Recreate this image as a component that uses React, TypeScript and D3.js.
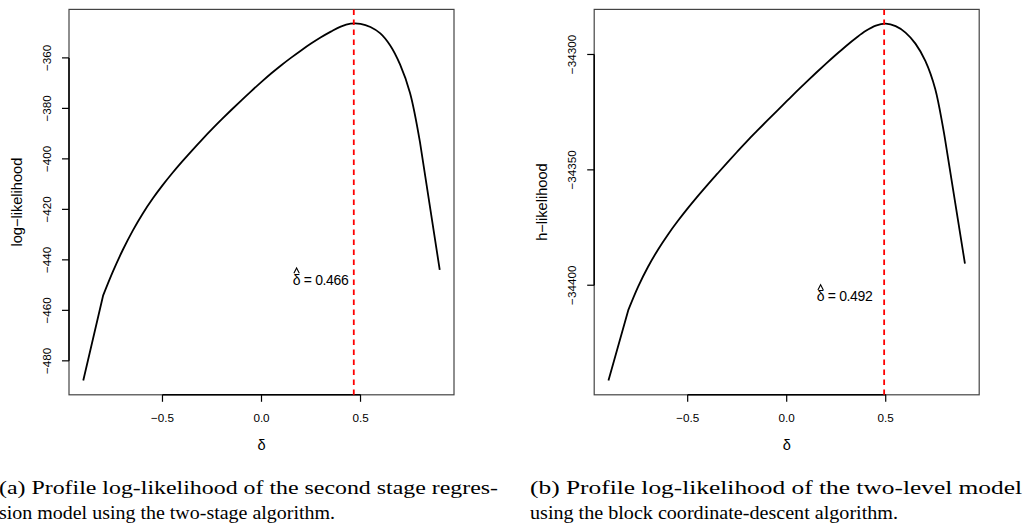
import React from 'react';
import * as d3 from 'd3';

// ---- data ----
const deltaGrid = [
  -0.9, -0.8, -0.75, -0.7, -0.65, -0.6, -0.55, -0.5, -0.45, -0.4, -0.35, -0.3, -0.25, -0.2, -0.15, -0.1, -0.05,
  0, 0.05, 0.1, 0.15, 0.2, 0.25, 0.3, 0.35, 0.4, 0.45, 0.5, 0.55, 0.6, 0.65, 0.7, 0.75, 0.8, 0.9,
];
const logLik = [
  -487.8, -454.2, -444.6, -436.0, -428.4, -421.7, -415.8, -410.5, -405.6, -401.0, -396.6, -392.35, -388.25, -384.3, -380.45, -376.7, -373.05,
  -369.5, -366.1, -362.9, -359.9, -357.05, -354.35, -351.85, -349.6, -347.6, -346.45, -346.5, -347.75, -350.3, -355.1, -362.7, -373.9, -393.3, -444.0,
];
const hLik = [
  -34441.3, -34410.8, -34400.6, -34392.0, -34384.6, -34378.1, -34372.2, -34366.7, -34361.5, -34356.5, -34351.65, -34346.85, -34342.15, -34337.55, -34333.15, -34328.8, -34324.5,
  -34320.25, -34316.0, -34311.85, -34307.8, -34303.85, -34300.0, -34296.3, -34292.85, -34289.75, -34287.5, -34286.65, -34287.7, -34290.5, -34295.3, -34302.8, -34315.0, -34337.0, -34390.6,
];
const deltaHatA = 0.466;
const deltaHatB = 0.492;
const xTicks = [-0.5, 0, 0.5];
const yTicksA = [-480, -460, -440, -420, -400, -380, -360];
const yTicksB = [-34400, -34350, -34300];
const annotA = { x: 0.158, y: -449.8 };
const annotB = { x: 0.152, y: -34407 };
const captionA = [
  '(a) Profile log-likelihood of the second stage regres-',
  'sion model using the two-stage algorithm.',
];
const captionB = [
  '(b) Profile log-likelihood of the two-level model',
  'using the block coordinate-descent algorithm.',
];

const SANS = '"Liberation Sans", Arial, Helvetica, sans-serif';
const SERIF = '"Liberation Serif", "Times New Roman", serif';
const MINUS = '\u2212';

const fmtX = (v: number) => (v < 0 ? MINUS : '') + Math.abs(v).toFixed(1);
const fmtY = (v: number) => (v < 0 ? MINUS : '') + String(Math.abs(v));

function padExtent(arr: number[]) {
  const [a, b] = d3.extent(arr) as [number, number];
  const p = (b - a) * 0.04;
  return [a - p, b + p];
}

type PanelProps = {
  left: number; right: number; top: number; bottom: number;
  values: number[]; yTicks: number[]; deltaHat: number;
  annot: { x: number; y: number }; yLabel: string;
};

function Panel({ left, right, top, bottom, values, yTicks, deltaHat, annot, yLabel }: PanelProps) {
  const x = d3.scaleLinear().domain(padExtent(deltaGrid)).range([left, right]);
  const y = d3.scaleLinear().domain(padExtent(values)).range([bottom, top]);
  const pts: [number, number][] = deltaGrid.map((d, i) => [d, values[i]]);
  const iA = deltaGrid.indexOf(-0.8);
  const iB = deltaGrid.indexOf(0.8);
  const lin = d3.line<[number, number]>().x((d) => x(d[0])).y((d) => y(d[1]));
  const smooth = d3
    .line<[number, number]>()
    .x((d) => x(d[0]))
    .y((d) => y(d[1]))
    .curve(d3.curveCatmullRom.alpha(0.5));
  const dPath =
    (lin(pts.slice(0, iA + 1)) || '') +
    (smooth(pts.slice(iA, iB + 1)) || '').replace(/^M/, 'L') +
    (lin(pts.slice(iB)) || '').replace(/^M/, 'L');

  const tickLen = 7;
  const cx = (left + right) / 2;
  const cy = (top + bottom) / 2;
  const ax = x(annot.x);
  const ay = y(annot.y);
  const dashX = x(deltaHat);
  const hx = ax + 3.8;

  return (
    <g>
      <rect x={left} y={top} width={right - left} height={bottom - top} fill="none" stroke="#444" strokeWidth={1.2} />
      {/* x axis */}
      <line x1={x(xTicks[0])} x2={x(xTicks[xTicks.length - 1])} y1={bottom} y2={bottom} stroke="#000" strokeWidth={1.5} />
      {xTicks.map((t) => (
        <g key={'x' + t}>
          <line x1={x(t)} x2={x(t)} y1={bottom} y2={bottom + tickLen} stroke="#000" strokeWidth={1.2} />
          <text x={x(t)} y={bottom + 27} textAnchor="middle" fontFamily={SANS} fontSize={11.7} fill="#000">
            {fmtX(t)}
          </text>
        </g>
      ))}
      {/* y axis */}
      <line x1={left} x2={left} y1={y(yTicks[0])} y2={y(yTicks[yTicks.length - 1])} stroke="#000" strokeWidth={1.5} />
      {yTicks.map((t) => (
        <g key={'y' + t}>
          <line x1={left - tickLen} x2={left} y1={y(t)} y2={y(t)} stroke="#000" strokeWidth={1.2} />
          <text
            transform={`translate(${left - 17.8},${y(t)}) rotate(-90)`}
            textAnchor="middle"
            fontFamily={SANS}
            fontSize={11.7}
            fill="#000"
          >
            {fmtY(t)}
          </text>
        </g>
      ))}
      {/* axis titles */}
      <text x={cx} y={bottom + 55} textAnchor="middle" fontFamily={SANS} fontSize={14.6} fill="#000">
        δ
      </text>
      <text
        transform={`translate(${left - 47},${cy}) rotate(-90)`}
        textAnchor="middle"
        fontFamily={SANS}
        fontSize={14.6}
        fill="#000"
      >
        {yLabel}
      </text>
      {/* curve */}
      <path d={dPath} fill="none" stroke="#000" strokeWidth={1.8} strokeLinejoin="round" />
      {/* estimate */}
      <line x1={dashX} x2={dashX} y1={top} y2={bottom} stroke="#ff0000" strokeWidth={1.8} strokeDasharray="5.5,4.5" />
      <text x={ax} y={ay} textAnchor="start" fontFamily={SANS} fontSize={14} fill="#000" textLength={56} lengthAdjust="spacing">
        {'δ = ' + deltaHat.toFixed(3)}
      </text>
      <path
        d={`M${hx - 2.7},${ay - 11.4}L${hx},${ay - 16.6}L${hx + 2.7},${ay - 11.4}`}
        fill="none"
        stroke="#000"
        strokeWidth={1.1}
      />
    </g>
  );
}

export default function App() {
  return (
    <svg
      width={1027}
      height={527}
      viewBox="0 0 1027 527"
      style={{ position: 'absolute', left: 0, top: 0, background: '#fff' }}
    >
      <rect x={0} y={0} width={1027} height={527} fill="#fff" />
      <Panel
        left={69}
        right={454}
        top={9.4}
        bottom={394.8}
        values={logLik}
        yTicks={yTicksA}
        deltaHat={deltaHatA}
        annot={annotA}
        yLabel={'log' + MINUS + 'likelihood'}
      />
      <Panel
        left={594.2}
        right={979.2}
        top={9.4}
        bottom={394.8}
        values={hLik}
        yTicks={yTicksB}
        deltaHat={deltaHatB}
        annot={annotB}
        yLabel={'h' + MINUS + 'likelihood'}
      />
      <text x={-1} y={494} fontFamily={SERIF} fontSize={19} textLength={499} lengthAdjust="spacingAndGlyphs" fill="#000">
        {captionA[0]}
      </text>
      <text x={-1} y={519} fontFamily={SERIF} fontSize={19} textLength={336} lengthAdjust="spacingAndGlyphs" fill="#000">
        {captionA[1]}
      </text>
      <text x={530} y={494} fontFamily={SERIF} fontSize={19} textLength={492} lengthAdjust="spacingAndGlyphs" fill="#000">
        {captionB[0]}
      </text>
      <text x={530} y={519} fontFamily={SERIF} fontSize={19} textLength={368} lengthAdjust="spacingAndGlyphs" fill="#000">
        {captionB[1]}
      </text>
    </svg>
  );
}
